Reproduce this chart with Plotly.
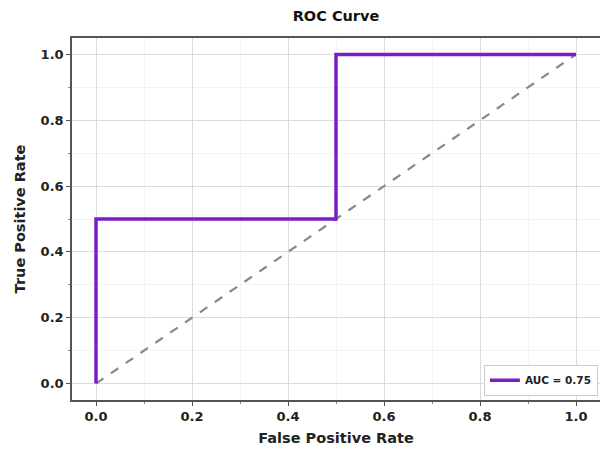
import plotly.graph_objects as go

fpr = [0.0, 0.0, 0.5, 0.5, 1.0]
tpr = [0.0, 0.5, 0.5, 1.0, 1.0]
diag_x = [0.0, 1.0]
diag_y = [0.0, 1.0]
auc_label = "AUC = 0.75"
tick_vals = [0.0, 0.2, 0.4, 0.6, 0.8, 1.0]
tick_text = ["0.0", "0.2", "0.4", "0.6", "0.8", "1.0"]

font_family = "DejaVu Sans"

fig = go.Figure()
fig.add_trace(go.Scatter(x=diag_x, y=diag_y, mode="lines",
                         line=dict(color="#888888", width=2.2, dash="dash"),
                         showlegend=False, hoverinfo="skip"))
fig.add_trace(go.Scatter(x=fpr, y=tpr, mode="lines", name=auc_label,
                         line=dict(color="#7a1fc8", width=3.5)))

axis_common = dict(
    tickvals=tick_vals, ticktext=tick_text,
    showgrid=True, gridcolor="#dcdcdc", gridwidth=1,
    minor=dict(showgrid=True, dtick=0.1, gridcolor="#f3f3f3", gridwidth=1,
               ticks="outside", ticklen=2, tickcolor="#888888"),
    showline=True, linecolor="#555555", linewidth=1.5,
    ticks="outside", ticklen=4, tickcolor="#555555",
    zeroline=False,
    tickfont=dict(family=font_family, size=13, color="#222222", weight="bold"),
)

fig.update_layout(
    width=600, height=450,
    margin=dict(l=72, r=0, t=38, b=50),
    paper_bgcolor="white", plot_bgcolor="white",
    title=dict(text="ROC Curve", x=0.56, xanchor="center", y=0.975, yanchor="top",
               font=dict(family=font_family, size=14.5, color="#111111", weight="bold")),
    xaxis=dict(range=[-0.05, 1.05], mirror=True,
               title=dict(text="False Positive Rate", standoff=10,
                          font=dict(family=font_family, size=14.5, color="#222222", weight="bold")),
               **axis_common),
    yaxis=dict(range=[-0.05, 1.05],
               title=dict(text="True Positive Rate", standoff=12,
                          font=dict(family=font_family, size=14.5, color="#222222", weight="bold")),
               **axis_common),
    legend=dict(x=0.996, y=0.012, xanchor="right", yanchor="bottom",
                bgcolor="white", bordercolor="#cccccc", borderwidth=1,
                itemwidth=30, tracegroupgap=0,
                font=dict(family=font_family, size=10.5, color="#222222", weight="bold")),
)

fig.write_html("out.html")
